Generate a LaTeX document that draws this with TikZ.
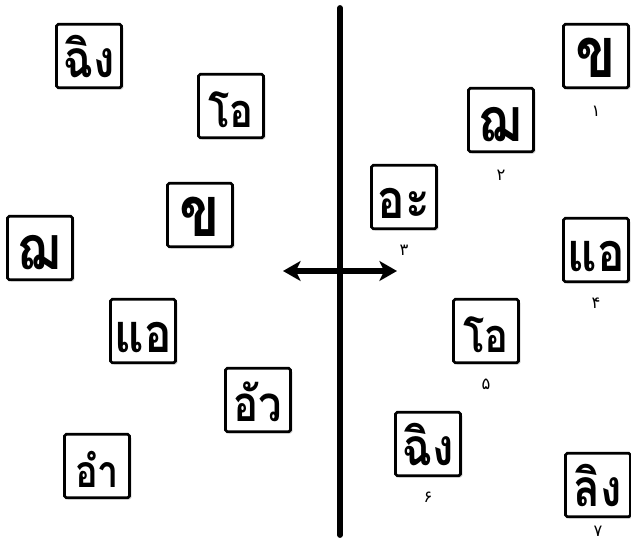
\documentclass[tikz,border=0pt]{standalone}
\usepackage{fontspec}
\newfontfamily\thaifont[Script=Thai, FakeStretch=0.85]{Loma}
\newfontfamily\arabicfont[Script=Arabic]{DejaVu Sans}
\usetikzlibrary{positioning, arrows.meta, shadows}

\begin{document}
\begin{tikzpicture}[x=0.03cm, y=-0.03cm,
  tile/.style={rectangle, draw=black, line width=2.3pt, rounded corners=1.5pt, fill=white,
    minimum width=1.95cm, minimum height=1.9cm, inner sep=0pt,
    text height=1.4cm, text depth=0.08cm,
    font=\thaifont\bfseries\fontsize{#1}{#1}\selectfont,
    drop shadow={shadow xshift=1.5pt, shadow yshift=-1.5pt, fill=black!55}},
  tile/.default=44,
  num/.style={font=\arabicfont\fontsize{14}{16}\selectfont, inner sep=1pt},
  divider/.style={line width=5pt, line cap=round},
  move/.style={line width=4.5pt, {Stealth[length=15pt, width=17pt, inset=4pt]}-{Stealth[length=15pt, width=17pt, inset=4pt]}}
]
\useasboundingbox (0,0) rectangle (631,543);

% left side
\node (lching) [tile] at (89,56) {ฉิง};
\node (lo) [tile=40] at (231,106) {โอ};
\node (lkho) [tile=60] at (200,215) {ข};
\node (lcho) [tile=52] at (40,248) {ฌ};
\node (lae) [tile=46] at (143,331) {แอ};
\node (lua) [tile=42] at (258,400) {อัว};
\node (lam) [tile=38] at (97,466) {อำ};

% right side
\node (rkho) [tile=60] at (596,56) {ข};
\node (rcho) [tile=52] at (501,120) {ฌ};
\node (ra) [tile=46] at (404,197) {อะ};
\node (rae) [tile=46] at (596,250) {แอ};
\node (ro) [tile=40] at (486,331) {โอ};
\node (rching) [tile] at (428,444) {ฉิง};
\node (rling) [tile] at (598,485) {ลิง};

\node (n1) [num, below=0.47cm of rkho] {۱};
\node (n2) [num, below=0.47cm of rcho] {۲};
\node (n3) [num, below=0.4cm of ra] {۳};
\node (n4) [num, below=0.4cm of rae] {۴};
\node (n5) [num, below=0.4cm of ro] {۵};
\node (n6) [num, below=0.4cm of rching] {۶};
\node (n7) [num, below=0.2cm of rling] {۷};

\coordinate (top) at (340,8);
\coordinate (bottom) at (340,535);
\coordinate (west) at (283,271);
\coordinate (east) at (397,271);

\draw [divider] (top) -- (bottom);
\draw [move] (west) -- (east);

\end{tikzpicture}
\end{document}
